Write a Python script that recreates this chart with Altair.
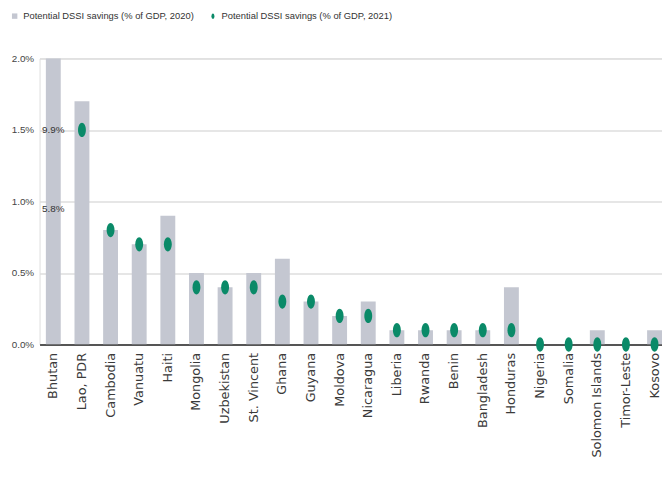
import altair as alt
import pandas as pd

countries = ["Bhutan", "Lao, PDR", "Cambodia", "Vanuatu", "Haiti", "Mongolia",
             "Uzbekistan", "St. Vincent", "Ghana", "Guyana", "Moldova", "Nicaragua",
             "Liberia", "Rwanda", "Benin", "Bangladesh", "Honduras", "Nigeria",
             "Somalia", "Solomon Islands", "Timor-Leste", "Kosovo"]
s2020 = [9.9, 1.7, 0.8, 0.7, 0.9, 0.5, 0.4, 0.5, 0.6, 0.3, 0.2, 0.3,
         0.1, 0.1, 0.1, 0.1, 0.4, 0.0, 0.0, 0.1, 0.0, 0.1]
s2021 = [5.8, 1.5, 0.8, 0.7, 0.7, 0.4, 0.4, 0.4, 0.3, 0.3, 0.2, 0.2,
         0.1, 0.1, 0.1, 0.1, 0.1, 0.0, 0.0, 0.0, 0.0, 0.0]
y_ticks = [0, 0.5, 1.0, 1.5, 2.0]
# annotations for the off-scale Bhutan values
ann_text = ["9.9%", "5.8%"]
ann_level = [1.5, 0.95]

L2020 = "Potential DSSI savings (% of GDP, 2020)"
L2021 = "Potential DSSI savings (% of GDP, 2021)"
GRAY = "#c4c7d1"
GREEN = "#0a8a68"
SANS = "Liberation Sans"

df = pd.DataFrame({"country": countries, "s2020": s2020, "s2021": s2021})
ann = pd.DataFrame({"country": [countries[0]] * 2, "txt": ann_text, "lvl": ann_level})

x_enc = alt.X("country:N", sort=countries, title=None,
              scale=alt.Scale(paddingInner=0.48, paddingOuter=0.11, align=1),
              axis=alt.Axis(labelAngle=-90, ticks=False, labelFont="DejaVu Sans",
                            labelFontSize=13, labelColor="#3a3a3a", labelPadding=8,
                            domainColor="#555", domainWidth=2, grid=False))
y_scale = alt.Scale(domain=[0, 2], nice=False, clamp=False)
y_axis = alt.Axis(values=y_ticks, labelExpr="format(datum.value, '.1f') + '%'",
                  domain=False, ticks=False, labelFont=SANS, labelFontSize=10,
                  labelColor="#444", labelPadding=6, gridColor="#dedede", gridWidth=1.5)

ellipse = "M -0.55 0 A 0.55 1 0 1 0 0.55 0 A 0.55 1 0 1 0 -0.55 0 Z"
color_scale = alt.Scale(domain=[L2020, L2021], range=[GRAY, GREEN])
shape_scale = alt.Scale(domain=[L2020, L2021], range=["square", ellipse])
legend = alt.Legend(orient="none", legendX=-30, legendY=-48, direction="horizontal",
                    title=None, labelFont=SANS, labelFontSize=9.5, labelColor="#333",
                    symbolSize=30, columnPadding=14, labelLimit=300)

bars = alt.Chart(df).transform_calculate(series=f"'{L2020}'").mark_bar(clip=True).encode(
    x=x_enc,
    y=alt.Y("s2020:Q", scale=y_scale, axis=y_axis, title=None),
    color=alt.Color("series:N", scale=color_scale, legend=legend),
)

points = alt.Chart(df).transform_filter("datum.s2021 <= 2").transform_calculate(
    series=f"'{L2021}'").mark_point(
    filled=True, opacity=1, size=210).encode(
    x=alt.X("country:N", sort=countries),
    y=alt.Y("s2021:Q", scale=y_scale),
    color=alt.Color("series:N", scale=color_scale, legend=legend),
    shape=alt.Shape("series:N", scale=shape_scale, legend=legend),
)

labels = alt.Chart(ann).mark_text(font=SANS, fontSize=10, color="#333").encode(
    x=alt.X("country:N", sort=countries),
    y=alt.Y("lvl:Q", scale=y_scale),
    text="txt:N",
)

chart = alt.layer(bars, points, labels).properties(
    width=631, height=290,
    padding={"left": 2, "top": 0, "right": 0, "bottom": 0},
).configure_view(stroke=None).configure(background="white")

chart.save("out.html", embed_options={"renderer": "svg", "actions": False})
